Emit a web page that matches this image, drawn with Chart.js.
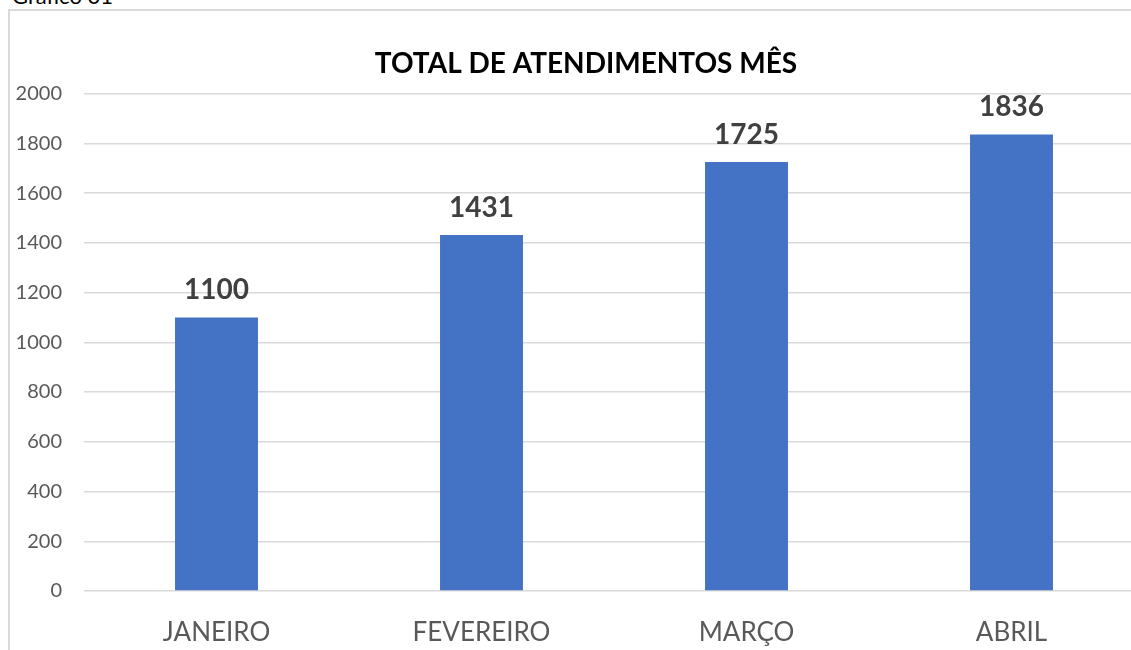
<!DOCTYPE html>
<html>
<head>
<meta charset="utf-8">
<script src="https://cdn.jsdelivr.net/npm/chart.js@4/dist/chart.umd.min.js"></script>
<style>
  html, body { margin: 0; padding: 0; background: #fff; overflow: hidden; width: 1131px; height: 650px; }
  #cap { position: absolute; left: 12px; top: -15px; font: 22px/1 Lato, sans-serif; color: #000; }
  #frame { position: absolute; left: 8px; top: 9px; width: 1200px; height: 700px; border: 2px solid #d9d9d9; pointer-events: none; }
  #myChart { position: absolute; left: 0; top: 0; }
</style>
</head>
<body>
<div id="cap">Gráfico 01</div>
<div id="frame"></div>
<canvas id="myChart" width="1160" height="660"></canvas>
<script>
var meses = ["JANEIRO", "FEVEREIRO", "MARÇO", "ABRIL"];
var atendimentos = [1100, 1431, 1725, 1836];
var yTicks = [0, 200, 400, 600, 800, 1000, 1200, 1400, 1600, 1800, 2000];

// rotulos em cima das barras
var rotulos = {
	id: "rotulos",
	afterDatasetsDraw: function (chart) {
		var ctx = chart.ctx;
		var meta = chart.getDatasetMeta(0);
		ctx.save();
		ctx.font = "bold 28px Lato, sans-serif";
		ctx.fillStyle = "#404040";
		ctx.textAlign = "center";
		ctx.textBaseline = "middle";
		meta.data.forEach(function (bar, i) {
			ctx.fillText(atendimentos[i], bar.x, bar.y - 27);
		});
		ctx.restore();
	}
};

new Chart("myChart", {
	type: "bar",
	data: {
		labels: meses,
		datasets: [{
			data: atendimentos,
			backgroundColor: "#4472C4",
			categoryPercentage: 1,
			barPercentage: 0.313
		}]
	},
	options: {
		responsive: false,
		animation: false,
		layout: { padding: { left: 12, right: 0, top: 0, bottom: 0 } },
		plugins: {
			legend: { display: false },
			tooltip: { enabled: false },
			title: {
				display: true,
				text: "TOTAL DE ATENDIMENTOS MÊS",
				color: "#000",
				font: { family: "Lato, sans-serif", size: 28, weight: "bold" },
				padding: { top: 47, bottom: 13 }
			}
		},
		scales: {
			y: {
				min: 0,
				max: 2000,
				afterBuildTicks: function (scale) {
					scale.ticks = yTicks.map(function (v) { return { value: v }; });
				},
				afterFit: function (scale) { scale.width = 72; },
				border: { display: false },
				grid: { color: "#d9d9d9", lineWidth: 1.5, drawTicks: false },
				ticks: {
					padding: 22,
					color: "#595959",
					font: { family: "Lato, sans-serif", size: 20 },
					callback: function (v) { return String(v); }
				}
			},
			// eixo vazio so para reservar espaco a direita
			y2: {
				position: "right",
				afterFit: function (scale) { scale.width = 16; },
				border: { display: false },
				grid: { display: false, drawTicks: false },
				ticks: { display: false }
			},
			x: {
				afterFit: function (scale) { scale.height = 69; },
				border: { display: false },
				grid: { display: false, drawTicks: false },
				ticks: {
					padding: 26,
					color: "#595959",
					font: { family: "Lato, sans-serif", size: 26 }
				}
			}
		}
	},
	plugins: [rotulos]
});
</script>
</body>
</html>
